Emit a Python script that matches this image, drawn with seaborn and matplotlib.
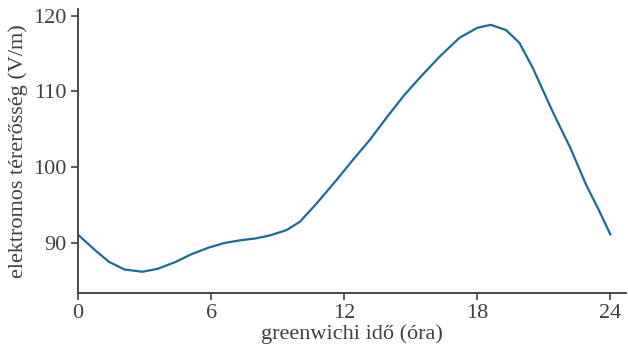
import matplotlib
matplotlib.use("Agg")
import matplotlib.pyplot as plt
import seaborn as sns
import pandas as pd

hours = [0, 0.75, 1.4, 2.1, 2.9, 3.6, 4.4, 5.1, 5.9, 6.6, 7.3, 8.0, 8.65, 9.4, 10.0, 10.75,
         11.65, 12.4, 13.15, 14.0, 14.7, 15.4, 16.3, 17.2, 18.0, 18.6, 19.3, 19.9, 20.5,
         21.4, 22.2, 22.9, 23.5, 24.0]
field = [91.1, 89.1, 87.5, 86.5, 86.2, 86.6, 87.5, 88.5, 89.4, 90.0, 90.35, 90.6, 91.0, 91.7,
         92.8, 95.2, 98.3, 101.0, 103.6, 106.9, 109.5, 111.8, 114.6, 117.1, 118.4, 118.8,
         118.1, 116.4, 113.1, 107.3, 102.5, 97.7, 94.2, 91.1]
xticks = [0, 6, 12, 18, 24]
yticks = [90, 100, 110, 120]
xlabel = "greenwichi idő (óra)"
ylabel = "elektromos térerősség (V/m)"

sns.set_style("ticks")
plt.rcParams['font.family'] = ['Liberation Serif', 'DejaVu Serif']

df = pd.DataFrame({"ora": hours, "E": field})
fig = plt.figure(figsize=(6.28, 3.56), dpi=100)
ax = fig.add_axes([0.1242, 0.177, 0.8726, 0.798])
sns.lineplot(data=df, x="ora", y="E", ax=ax, color="#1b6b94", linewidth=1.6)
ax.set_xlim(0, 24.7)
ax.set_ylim(83.4, 120.9)
ax.set_xticks(xticks)
ax.set_yticks(yticks)
ax.set_xlabel(xlabel, fontsize=16, color="#404040", labelpad=1)
ax.set_ylabel(ylabel, fontsize=16, color="#404040", labelpad=4)
ax.tick_params(axis="both", labelsize=16, colors="#404040", length=5, width=1.2, pad=3)
sns.despine(ax=ax)
for s in ["left", "bottom"]:
    ax.spines[s].set_color("#3a3a3a")
    ax.spines[s].set_linewidth(1.3)
fig.savefig("out.png", dpi=100)
